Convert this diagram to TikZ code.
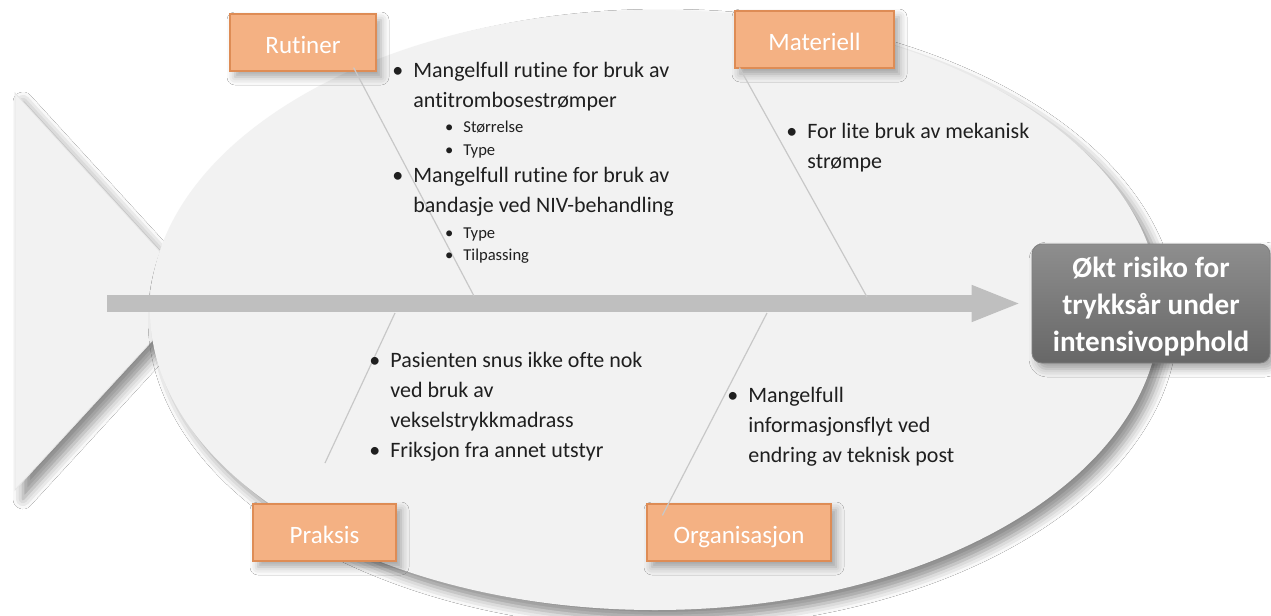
\documentclass[tikz,border=0pt]{standalone}
\usepackage{fontspec}
\setmainfont{Carlito}[Ligatures={NoCommon}]
\usepackage{xcolor}
\usepackage{tikz}
\usetikzlibrary{arrows.meta, shadows.blur}

\definecolor{fishbody}{HTML}{F2F2F2}
\definecolor{spinegray}{HTML}{BFBFBF}
\definecolor{bonegray}{HTML}{C8C8C8}
\definecolor{catfill}{HTML}{F4B183}
\definecolor{catline}{HTML}{DE8C55}
\definecolor{restop}{HTML}{8E8E8E}
\definecolor{resbot}{HTML}{676767}

\newcommand{\bitem}[1]{\llap{\textbullet\hspace{5pt}}\begin{tabular}[t]{@{}l@{}}#1\end{tabular}}

\begin{document}
\begin{tikzpicture}[
  x=0.5pt, y=-0.5pt,
  soft/.style={blur shadow={shadow xshift=2.5pt, shadow yshift=-3pt, shadow blur radius=4pt, shadow opacity=35}},
  bigsoft/.style={blur shadow={shadow xshift=4pt, shadow yshift=-4.5pt, shadow blur radius=5pt, shadow opacity=45}},
  cat/.style={draw=catline, line width=0.6pt, fill=catfill, text=white, font=\fontsize{12.5}{15}\selectfont,
    text height=10.5pt, text depth=0pt, minimum height=28.5pt, inner sep=0pt, soft},
  res/.style={rounded corners=5pt, top color=restop, bottom color=resbot, draw=black!50, line width=0.4pt,
    text=white, font=\bfseries\fontsize{14.6}{18.5}\selectfont, align=center,
    minimum width=119pt, minimum height=59.5pt, inner sep=0pt, soft},
  txt/.style={anchor=base west, inner sep=0pt, text=black!88, font=\fontsize{11}{15}\selectfont},
  subtxt/.style={txt, font=\fontsize{8.3}{11.25}\selectfont},
  bone/.style={draw=bonegray, line width=0.6pt},
  spine/.style={draw=spinegray, line width=8.5pt, -{Triangle[length=25pt,width=16.5pt]}, shorten >=5pt},
]
\path[use as bounding box, fill=white] (0,0) rectangle (1271,616);

% fish: tail and body
\fill[fishbody, draw=black!10, line width=0.4pt, bigsoft] (15,93) -- (197,292) -- (15,490) -- cycle;
\fill[fishbody, bigsoft] (655,310) ellipse [x radius=252.5pt, y radius=150pt];

% effect and spine
\node[res] (res) at (1151,303.5) {\rule{0pt}{13pt}Økt risiko for\\trykksår under\\intensivopphold};
\coordinate (spinestart) at (107,303.5);
\draw[spine] (spinestart) -- (res.west);

% categories
\node[cat, minimum width=73pt] (rut) at (303,42.5) {Rutiner};
\node[cat, minimum width=79.5pt] (mat) at (814.5,39.5) {Materiell};
\node[cat, minimum width=71.5pt] (pra) at (324.5,532.5) {Praksis};
\node[cat, minimum width=92pt] (org) at (739,532.5) {Organisasjon};

% bones
\coordinate (rutfoot) at (474,296);
\coordinate (matfoot) at (867,297);
\coordinate (pratop) at (395,313);
\coordinate (praend) at (325,463);
\coordinate (orgtop) at (767,313);
\draw[bone] ([shift={(-23,-4)}]rut.south east) -- (rutfoot);
\draw[bone] ([shift={(5,-1)}]mat.south west) -- (matfoot);
\draw[bone] (pratop) -- (praend);
\draw[bone] (orgtop) -- ([shift={(16,12)}]org.north west);

% causes
\node[txt] (rutA) at (413,77) {\bitem{Mangelfull rutine for bruk av\\antitrombosestrømper}};
\node[subtxt] (rutA1) at (463,132) {\bitem{Størrelse}};
\node[subtxt] (rutA2) at (463,155) {\bitem{Type}};
\node[txt] (rutB) at (413,182) {\bitem{Mangelfull rutine for bruk av\\bandasje ved NIV-behandling}};
\node[subtxt] (rutB1) at (463,238) {\bitem{Type}};
\node[subtxt] (rutB2) at (463,260) {\bitem{Tilpassing}};
\node[txt] (matA) at (807,138) {\bitem{For lite bruk av mekanisk\\strømpe}};
\node[txt] (praA) at (390,367) {\bitem{Pasienten snus ikke ofte nok\\ved bruk av\\vekselstrykkmadrass}};
\node[txt] (praB) at (390,457) {\bitem{Friksjon fra annet utstyr}};
\node[txt] (orgA) at (748,402) {\bitem{Mangelfull\\informasjonsflyt ved\\endring av teknisk post}};
\end{tikzpicture}
\end{document}
